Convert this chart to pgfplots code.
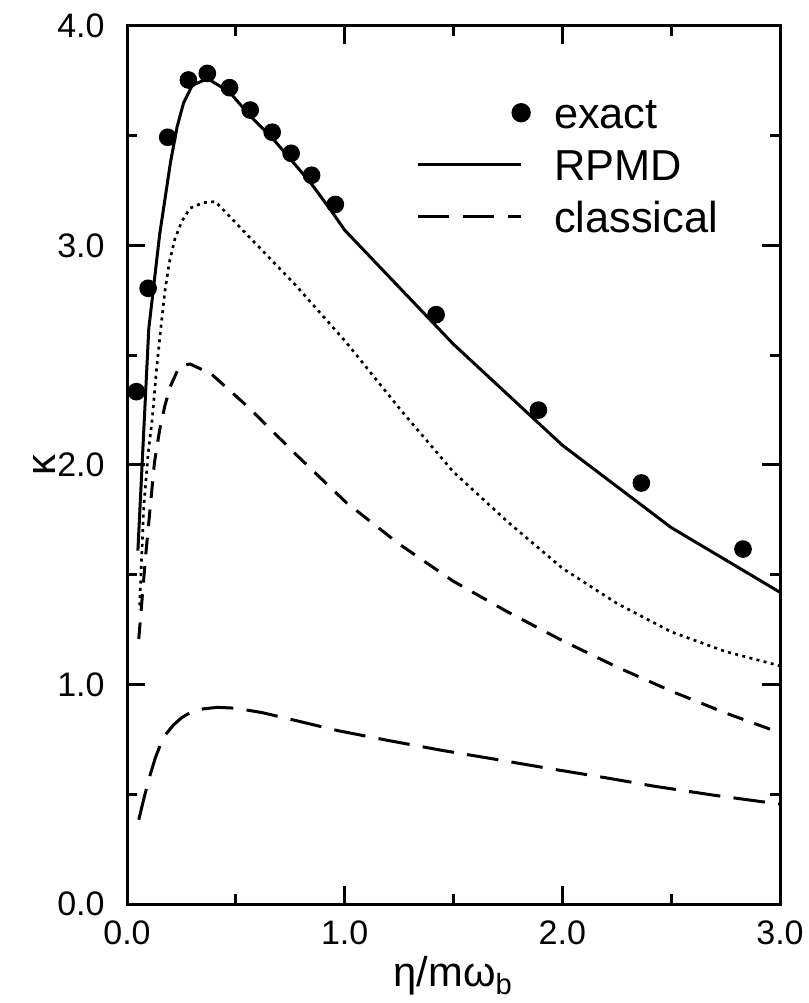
\documentclass[border=0pt]{standalone}
\usepackage{fontspec}
\setmainfont{Liberation Sans}
\usepackage{pgfplots}
\pgfplotsset{compat=1.18}
\pgfplotsset{
  dotlegend/.style={legend image code/.code={\path[draw=none] (0pt,0pt) -- (31pt,0pt); \fill[black] (31pt,0pt) circle (2.7pt);}},
  linelegend/.style={legend image code/.code={\draw[##1] (0pt,0pt) -- (31pt,0pt);}},
}
\begin{document}
\begin{tikzpicture}
\begin{axis}[
  scale only axis, width=195.9pt, height=263.4pt,
  xmin=0, xmax=3, ymin=0, ymax=4,
  xtick={0,1,2,3}, ytick={0,1,2,3,4},
  minor xtick={0.5,1.5,2.5}, minor ytick={0.5,1.5,2.5,3.5},
  tick align=inside, tick pos=both,
  major tick length=5.4pt, minor tick length=3pt,
  every tick/.style={line width=0.9pt, black},
  axis line style={line width=0.9pt},
  /pgf/number format/fixed, /pgf/number format/fixed zerofill,
  /pgf/number format/precision=1, /pgf/number format/assume math mode=true,
  tick label style={font=\fontsize{10.2}{12}\selectfont},
  yticklabel style={xshift=-3.2pt},
  xticklabel style={yshift=-1.4pt},
  label style={font=\fontsize{12.5}{14}\selectfont},
  xlabel={η/mω\textsubscript{b}}, ylabel={κ},
  xlabel style={at={(axis description cs:0.5,-0.0945)}, anchor=base},
  ylabel style={at={(axis description cs:-0.127,0.5)}, anchor=center},
  legend style={at={(axis description cs:0.442,0.924)}, anchor=north west,
    draw=none, fill=none, inner sep=0pt, row sep=4pt,
    font=\fontsize{13}{15}\selectfont,
    nodes={inner sep=1pt, text height=9.4pt, text depth=0.2pt},
    /tikz/every odd column/.append style={column sep=6pt}},
  legend cell align=left,
]
\addplot[only marks, mark=*, mark size=2.45pt, black, dotlegend]
  table {
x y
0.043 2.334
0.097 2.805
0.187 3.493
0.282 3.754
0.369 3.784
0.471 3.719
0.566 3.617
0.667 3.516
0.754 3.420
0.848 3.320
0.957 3.187
1.420 2.685
1.890 2.250
2.363 1.918
2.830 1.617
};
\addlegendentry{exact}
\addplot[black, line width=0.9pt, mark=none, linelegend]
  table {
x y
0.050 1.61
0.100 2.62
0.150 3.05
0.200 3.38
0.230 3.54
0.260 3.65
0.300 3.73
0.370 3.76
0.470 3.70
0.566 3.59
0.667 3.49
0.754 3.39
0.848 3.28
0.944 3.15
1.000 3.07
1.500 2.55
2.000 2.09
2.500 1.715
3.000 1.42
};
\addlegendentry{RPMD}
\addplot[black, line width=0.9pt, mark=none, dash pattern=on 9.5pt off 4pt, linelegend]
  table {
x y
0.054 0.384
0.080 0.49
0.106 0.587
0.130 0.665
0.155 0.73
0.180 0.775
0.213 0.815
0.250 0.848
0.290 0.872
0.350 0.889
0.416 0.896
0.500 0.892
0.620 0.872
0.800 0.83
0.968 0.79
1.200 0.745
1.452 0.699
1.700 0.658
1.935 0.618
2.200 0.575
2.420 0.537
2.700 0.495
3.000 0.455
};
\addlegendentry{classical}
\addplot[black, line width=0.8pt, mark=none, dash pattern=on 0.9pt off 1.3pt, forget plot]
  table {
x y
0.058 1.36
0.077 1.81
0.097 2.05
0.116 2.21
0.135 2.43
0.155 2.62
0.174 2.79
0.194 2.92
0.220 3.03
0.252 3.11
0.290 3.17
0.350 3.195
0.406 3.20
0.580 3.02
0.774 2.82
1.006 2.56
1.258 2.25
1.500 1.968
1.750 1.74
2.000 1.53
2.250 1.37
2.500 1.24
2.750 1.15
3.000 1.085
};
\addplot[black, line width=0.9pt, mark=none, dash pattern=on 5pt off 3.5pt, forget plot]
  table {
x y
0.054 1.207
0.087 1.60
0.126 2.01
0.150 2.16
0.174 2.27
0.200 2.36
0.232 2.43
0.260 2.455
0.290 2.46
0.387 2.415
0.561 2.26
0.774 2.05
1.006 1.83
1.250 1.64
1.500 1.47
1.750 1.33
2.000 1.20
2.250 1.08
2.500 0.97
2.750 0.87
3.000 0.78
};
\end{axis}
\pgfresetboundingbox
\path[use as bounding box] ([xshift=-38.1pt,yshift=-29.7pt]current axis.south west) rectangle ([xshift=8.4pt,yshift=7.8pt]current axis.north east);
\end{tikzpicture}
\end{document}
